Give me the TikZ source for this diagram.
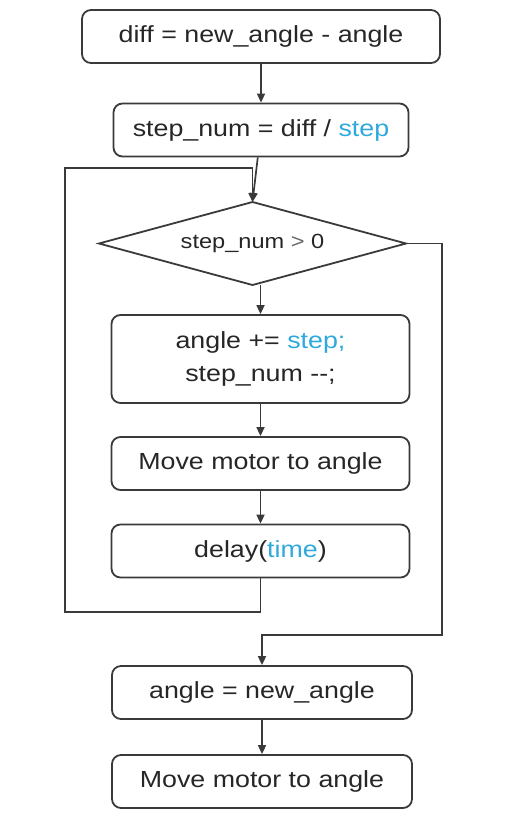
\documentclass[tikz,border=0pt]{standalone}
\usepackage{fontspec}
\setmainfont{Liberation Sans}[FakeStretch=1.15]
\usetikzlibrary{shapes.geometric,arrows.meta}
\definecolor{linegray}{HTML}{3A3A3A}
\definecolor{txtgray}{HTML}{262626}
\definecolor{kwblue}{HTML}{2FA9DC}
\begin{document}
\begin{tikzpicture}[x=1pt,y=-1pt,
		proc/.style={draw=linegray, line width=1.8pt, rounded corners=9pt, minimum width=298pt, minimum height=53pt, inner sep=0pt, text=txtgray, font=\fontsize{23.3}{33}\selectfont, align=center},
		cond/.style={draw=linegray, line width=1.8pt, diamond, aspect=3.7, minimum width=307pt, minimum height=83pt, inner sep=0pt, outer sep=0pt, text=txtgray, font=\fontsize{20.5}{24}\selectfont},
		flow/.style={draw=linegray, line width=1.7pt, -{Triangle[length=9pt,width=8pt]}}]
				\useasboundingbox (0,0) rectangle (522,829);
				\draw (261,36.5) node[proc, minimum width=358pt] (diff) {diff = new\_angle - angle};
				\draw (261,130) node[proc, minimum width=295pt] (stepnum) {step\_num = diff / \textcolor{kwblue}{step}};
				\draw (252.5,243.5) node[cond] (test) {step\_num {\color{txtgray!70}>} 0};
				\draw (260.5,359) node[proc, minimum height=88pt] (update) {angle += \textcolor{kwblue}{step;}\\step\_num -{}-;};
				\draw (260.5,463.5) node[proc] (move1) {Move motor to angle};
				\draw (260.5,551) node[proc] (wait) {delay(\textcolor{kwblue}{time})};
				\draw (262,692.5) node[proc, minimum width=300pt] (assign) {angle = new\_angle};
				\draw (262,781.5) node[proc, minimum width=300pt] (move2) {Move motor to angle};
				\coordinate (loopL) at (65,612);
				\coordinate (loopT) at (252.5,168);
				\coordinate (exitR) at (442,635);
				\draw[flow] (diff) -- (stepnum);
				\draw[flow] (stepnum) -- (test.north);
				\draw[flow] (update.north |- test.south) -- (update);
				\draw[flow] (update) -- (move1);
				\draw[flow] (move1) -- (wait);
				\draw[flow] (wait.south) |- (loopL) |- (loopT) -- (test.north);
				\draw[flow] (test.east) -| (exitR) -| (assign.north);
				\draw[flow] (assign) -- (move2);
			\end{tikzpicture}
\end{document}
